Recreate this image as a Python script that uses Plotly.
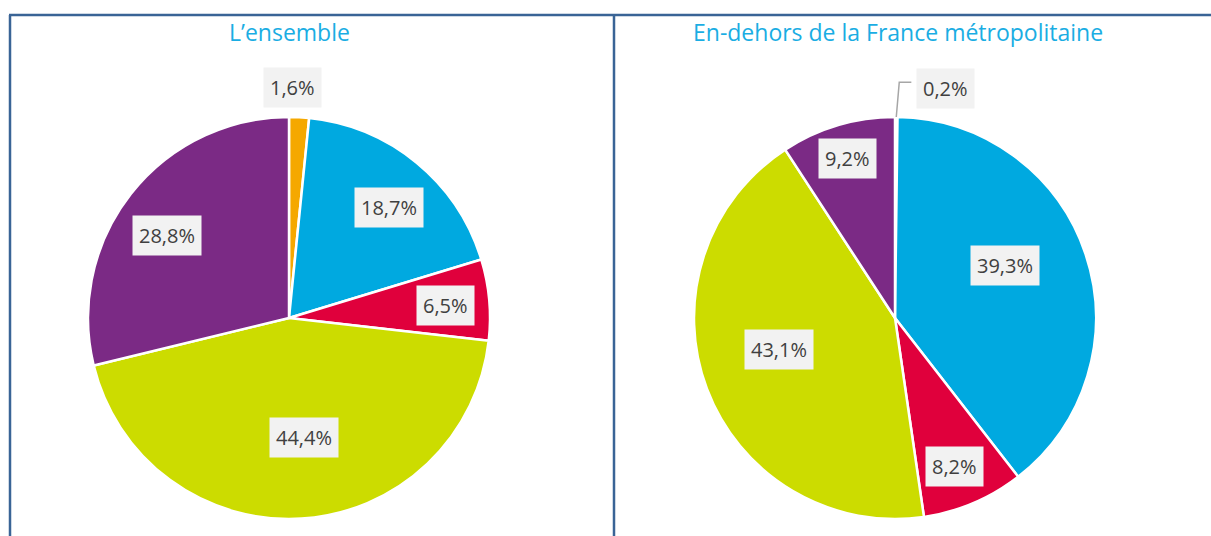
import math
import plotly.graph_objects as go

W, H = 1211, 536

categories = ["Orange", "Bleu", "Rouge", "Vert", "Violet"]
colors = ["#F5A800", "#00A9E0", "#E0003C", "#CCDC00", "#7B2A85"]

titles = ["L’ensemble", "En-dehors de la France métropolitaine"]
values_ensemble = [1.6, 18.7, 6.5, 44.4, 28.8]
values_dehors = [0.2, 39.3, 8.2, 43.1, 9.2]
labels_ensemble = ["1,6%", "18,7%", "6,5%", "44,4%", "28,8%"]
labels_dehors = ["0,2%", "39,3%", "8,2%", "43,1%", "9,2%"]

# layout / style (pixel geometry)
pie_centers_px = [(289, 318), (895, 318)]
R_px = 201
label_rfrac = [[1.145, 0.74, 0.78, 0.60, 0.735], [1.17, 0.605, 0.795, 0.60, 0.83]]
label_dang = [[-2, 2.6, 0.8, -3.6, -4], [12, -6.8, 1, 5.7, 0]]

fig = go.Figure()
annotations = []
shapes = []

def px2paper(x, y):
    return x / W, 1 - y / H

for i, (vals, labs) in enumerate([(values_ensemble, labels_ensemble), (values_dehors, labels_dehors)]):
    cx, cy = pie_centers_px[i]
    fig.add_trace(go.Pie(
        labels=categories, values=vals, sort=False, direction="clockwise", rotation=0,
        marker=dict(colors=colors, line=dict(color="white", width=2.5)),
        textinfo="none", hoverinfo="label+percent", showlegend=False,
        domain=dict(x=[(cx - R_px) / W, (cx + R_px) / W], y=[1 - (cy + R_px) / H, 1 - (cy - R_px) / H]),
    ))
    total = sum(vals)
    cum = 0
    for j, (v, lab) in enumerate(zip(vals, labs)):
        mid = (cum + v / 2) / total * 360
        cum += v
        ang = math.radians(mid + label_dang[i][j])
        r = R_px * label_rfrac[i][j]
        lx, ly = cx + r * math.sin(ang), cy - r * math.cos(ang)
        px, py = px2paper(lx, ly)
        annotations.append(dict(
            x=px, y=py, xref="paper", yref="paper", xanchor="center", yanchor="middle",
            text=lab, showarrow=False, bgcolor="#F2F2F2", borderpad=6,
            font=dict(family="Open Sans", size=20, color="#404040"),
        ))
        if i == 1 and j == 0:
            # leader line from slice edge to label box
            ma = math.radians(mid)
            ex, ey = cx + R_px * math.sin(ma), cy - R_px * math.cos(ma)
            bx = lx - 34
            x0, y0 = px2paper(ex, ey)
            x1, y1 = px2paper(ex + 3, ly - 6)
            x2, y2 = px2paper(bx, ly - 6)
            shapes.append(dict(type="path", xref="paper", yref="paper",
                               path=f"M {x0} {y0} L {x1} {y1} L {x2} {y2}",
                               line=dict(color="#A6A6A6", width=1.5)))
    tx, ty = px2paper(cx + (3 if i else 0), 32)
    annotations.append(dict(
        x=tx, y=ty, xref="paper", yref="paper", xanchor="center", yanchor="middle",
        text=titles[i], showarrow=False,
        font=dict(family="Open Sans", size=23, color="#1AADE3"),
    ))

border = "#3A6496"
for (xa, ya, xb, yb) in [(9, 15, W, 15), (10, 15, 10, H), (614, 15, 614, H)]:
    a = px2paper(xa, ya); b = px2paper(xb, yb)
    shapes.append(dict(type="line", xref="paper", yref="paper", x0=a[0], y0=a[1], x1=b[0], y1=b[1],
                       line=dict(color=border, width=2.5)))

fig.update_layout(
    width=W, height=H, margin=dict(l=0, r=0, t=0, b=0),
    paper_bgcolor="white", plot_bgcolor="white",
    annotations=annotations, shapes=shapes,
)

fig.write_html("out.html", config={"displayModeBar": False},
               post_script="document.body.style.margin='0';")
